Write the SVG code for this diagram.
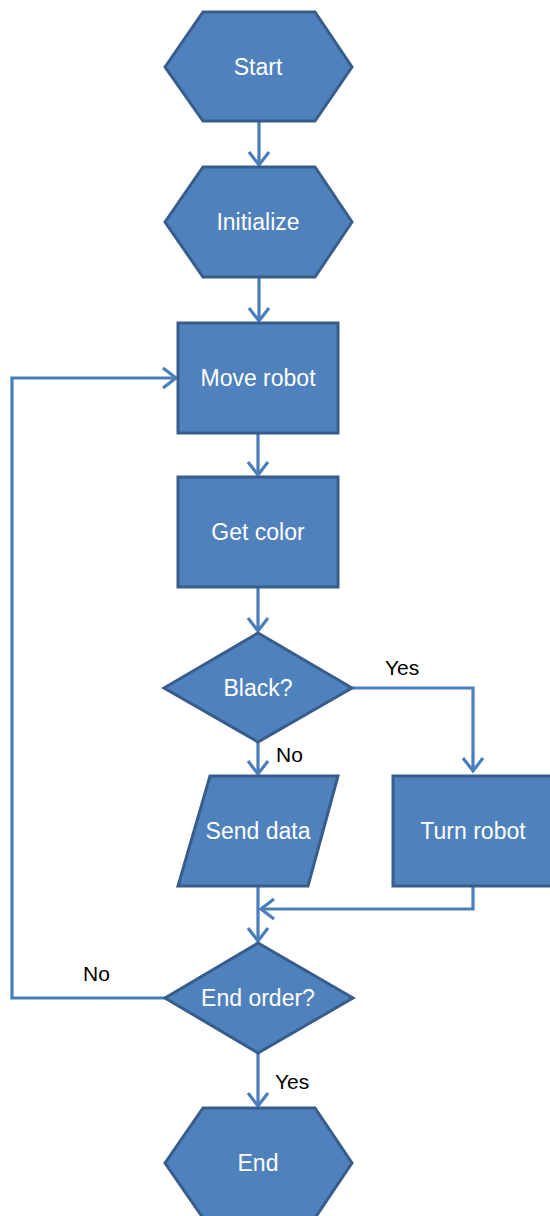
<svg xmlns="http://www.w3.org/2000/svg" width="550" height="1216" viewBox="0 0 550 1216">
<style>
.shape{fill:#4F81BD;stroke:#385D8A;stroke-width:3;stroke-linejoin:miter}
.t{font-family:"Liberation Sans",Arial,sans-serif;font-size:23px;fill:#FFFFFF;text-anchor:middle;dominant-baseline:central}
.lbl{font-family:"Liberation Sans",Arial,sans-serif;font-size:21px;fill:#000000}
.c{fill:none;stroke:#4A7EBB;stroke-width:3.2;marker-end:url(#arr)}
</style>
<defs>
<marker id="arr" markerUnits="userSpaceOnUse" markerWidth="30" markerHeight="30" viewBox="-20 -15 30 30" refX="0" refY="0" orient="auto">
<path d="M-13,-10 L0,0 L-13,10" fill="none" stroke="#4A7EBB" stroke-width="3.2"/>
</marker>
</defs>
<g id="connectors">
<path class="c" d="M259,121 L259,165"/>
<path class="c" d="M259,277 L259,321"/>
<path class="c" d="M258,433 L258,475"/>
<path class="c" d="M258,587 L258,631"/>
<path class="c" d="M258,742 L258,774"/>
<path class="c" d="M352,688 L473,688 L473,771"/>
<path class="c" d="M258,886 L258,941"/>
<path class="c" d="M473,886 L473,909 L261,909"/>
<path class="c" d="M258,1053 L258,1106"/>
<path class="c" d="M165,998 L12,998 L12,378 L176,378"/>
</g>
<g id="start">
<polygon class="shape" points="165,67 203,12 315,12 352,67 315,121 203,121"/>
<text class="t" x="258" y="67">Start</text>
</g>
<g id="initialize">
<polygon class="shape" points="165,222 203,167 315,167 352,222 315,277 203,277"/>
<text class="t" x="258" y="222">Initialize</text>
</g>
<g id="move-robot">
<rect class="shape" x="178" y="323" width="160" height="110"/>
<text class="t" x="258" y="378">Move robot</text>
</g>
<g id="get-color">
<rect class="shape" x="178" y="477" width="160" height="110"/>
<text class="t" x="258" y="532">Get color</text>
</g>
<g id="black">
<polygon class="shape" points="164,688 258,633 352,688 258,742"/>
<text class="t" x="258" y="688">Black?</text>
</g>
<g id="send-data">
<polygon class="shape" points="210,776 338,776 308,886 178,886"/>
<text class="t" x="258" y="831">Send data</text>
</g>
<g id="turn-robot">
<rect class="shape" x="393" y="776" width="160" height="110"/>
<text class="t" x="473" y="831">Turn robot</text>
</g>
<g id="end-order">
<polygon class="shape" points="165,998 258,943 353,998 258,1053"/>
<text class="t" x="258" y="998">End order?</text>
</g>
<g id="end">
<polygon class="shape" points="165,1163 203,1108 315,1108 352,1163 315,1218 203,1218"/>
<text class="t" x="258" y="1163">End</text>
</g>
<g id="labels">
<text class="lbl" x="385" y="675">Yes</text>
<text class="lbl" x="276" y="762">No</text>
<text class="lbl" x="83" y="981">No</text>
<text class="lbl" x="275" y="1089">Yes</text>
</g>
</svg>
